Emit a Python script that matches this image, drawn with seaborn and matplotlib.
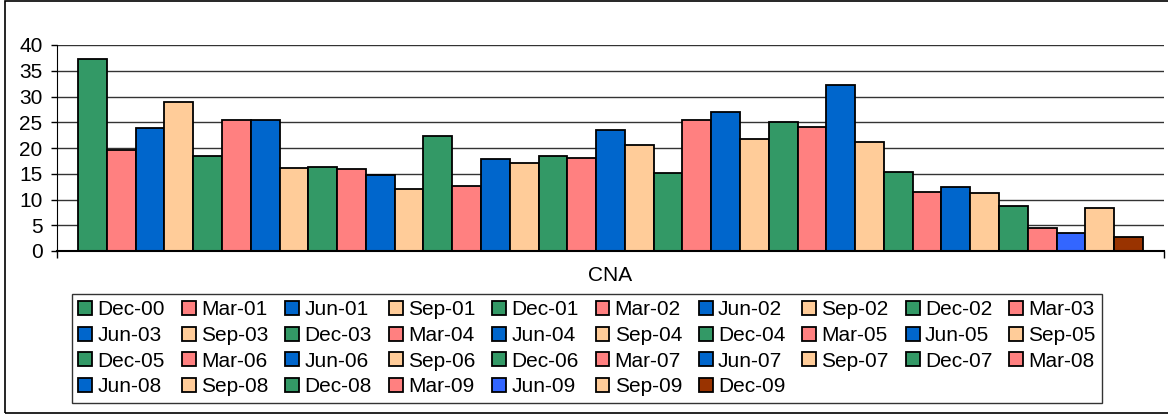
import matplotlib
matplotlib.use("Agg")
import matplotlib.pyplot as plt
from matplotlib.patches import Patch, Rectangle
import seaborn as sns

# quarterly CNA values
quarters = ["Dec-00", "Mar-01", "Jun-01", "Sep-01", "Dec-01", "Mar-02", "Jun-02", "Sep-02",
            "Dec-02", "Mar-03", "Jun-03", "Sep-03", "Dec-03", "Mar-04", "Jun-04", "Sep-04",
            "Dec-04", "Mar-05", "Jun-05", "Sep-05", "Dec-05", "Mar-06", "Jun-06", "Sep-06",
            "Dec-06", "Mar-07", "Jun-07", "Sep-07", "Dec-07", "Mar-08", "Jun-08", "Sep-08",
            "Dec-08", "Mar-09", "Jun-09", "Sep-09", "Dec-09"]
values = [37.3, 19.6, 23.9, 29.0, 18.5, 25.5, 25.5, 16.1,
          16.4, 16.0, 14.7, 12.1, 22.4, 12.7, 17.8, 17.1,
          18.4, 18.0, 23.4, 20.6, 15.2, 25.5, 27.0, 21.7,
          25.0, 24.1, 32.3, 21.1, 15.4, 11.4, 12.4, 11.3,
          8.8, 4.4, 3.4, 8.4, 2.8]
category = ["CNA"] * len(quarters)

green, salmon, blue, peach = "#339966", "#FF8080", "#0066CC", "#FFCC99"
colors = [green, salmon, blue, peach] * 9
colors[34] = "#3366FF"
colors.append("#993300")

plt.rcParams["font.family"] = ["Liberation Sans", "DejaVu Sans"]
plt.rcParams["font.size"] = 15

fig = plt.figure(figsize=(11.68, 4.16), dpi=100)
ax = fig.add_axes([57 / 1168, 1 - 251 / 416, (1164 - 57) / 1168, 206 / 416])

sns.barplot(x=category, y=values, hue=quarters, hue_order=quarters, palette=colors,
            saturation=1, width=0.962, edgecolor="black", linewidth=1.3,
            legend=False, ax=ax)

ax.set_xlim(-0.5, 0.5)
ax.set_ylim(0, 40)
ax.set_yticks(range(0, 41, 5))
ax.yaxis.grid(True, color="#333333", lw=1)
ax.set_axisbelow(True)
ax.tick_params(axis="y", length=4.5, width=1, pad=6, colors="black")
ax.set_xticks([0], ["CNA"])
ax.tick_params(axis="x", which="major", length=0, pad=11)
ax.set_xticks([-0.5, 0.5], minor=True)
ax.tick_params(axis="x", which="minor", length=5, width=1, color="black")
ax.set_xlabel("")
ax.set_ylabel("")
for s in ["top", "right"]:
    ax.spines[s].set_visible(False)
ax.spines["left"].set_color("black")
ax.spines["bottom"].set_color("black")
ax.spines["bottom"].set_linewidth(1.5)

# legend filled row by row (matplotlib fills columns first)
ncol = 10
order = [i for j in range(ncol) for i in range(j, len(quarters), ncol)]
handles = [Patch(facecolor=colors[i], edgecolor="black", linewidth=1.3) for i in order]
labels = [quarters[i] for i in order]
leg = fig.legend(handles, labels, ncol=ncol, loc="upper left",
                 bbox_to_anchor=(72 / 1168, 1 - 402 / 416, 1030 / 1168, 108 / 416),
                 mode="expand", frameon=True, fancybox=False, edgecolor="black",
                 handlelength=0.67, handleheight=0.67, handletextpad=0.25,
                 labelspacing=0.32, borderpad=0.3, borderaxespad=0, columnspacing=0.5)
leg.get_frame().set_linewidth(1)

fig.patches.append(Rectangle((5 / 1168, 3 / 416), 1.0, 412 / 416, transform=fig.transFigure,
                             fill=False, edgecolor="black", lw=1.2))

fig.savefig("out.png", dpi=100)
